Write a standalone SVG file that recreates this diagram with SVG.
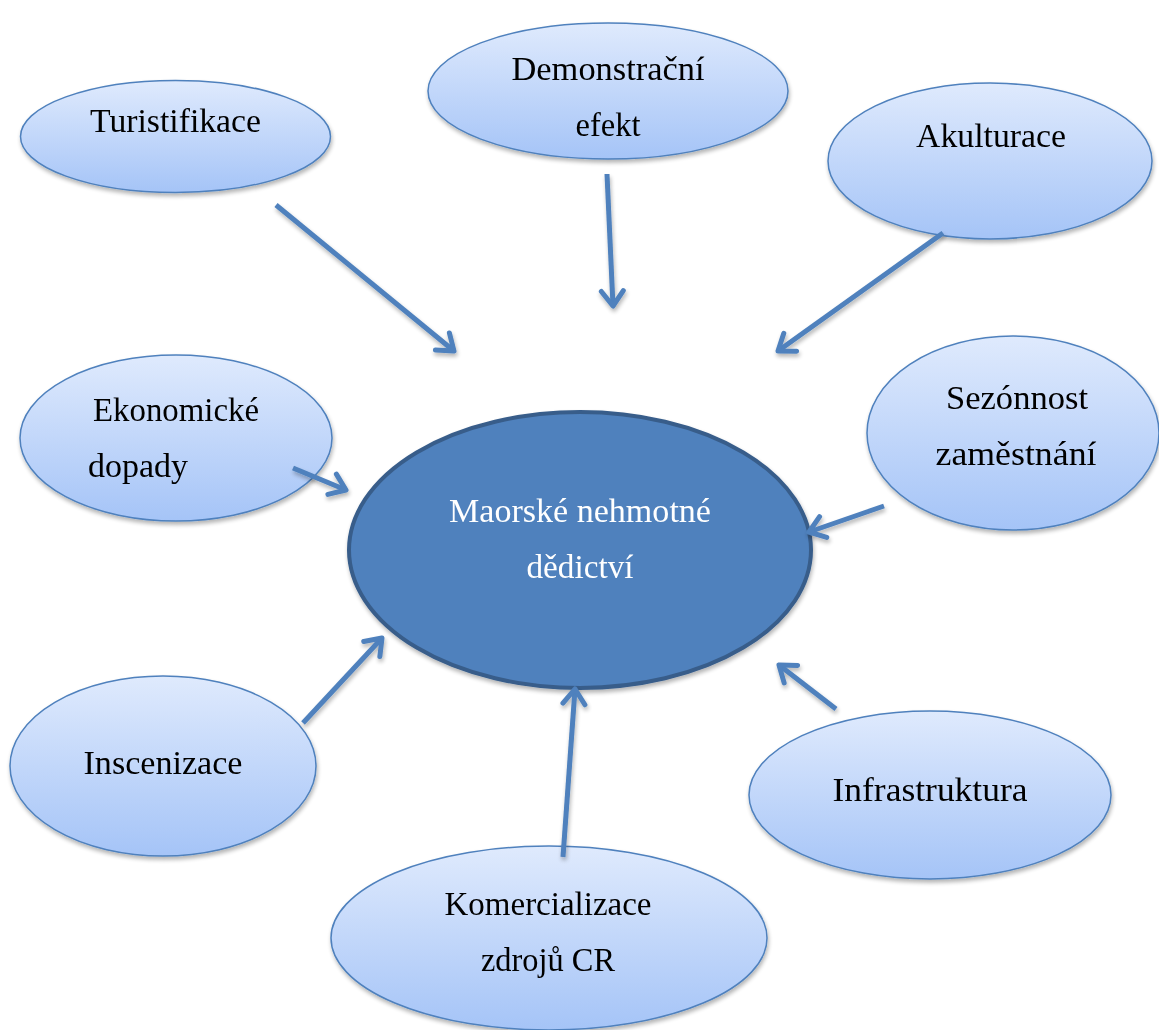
<svg xmlns="http://www.w3.org/2000/svg" width="1159" height="1030" viewBox="0 0 1159 1030">
<defs>
<linearGradient id="g" x1="0" y1="0" x2="0" y2="1">
<stop offset="0" stop-color="#dfeafd"/>
<stop offset="1" stop-color="#a5c4f7"/>
</linearGradient>
<filter id="sh" x="-10%" y="-10%" width="130%" height="130%">
<feGaussianBlur in="SourceAlpha" stdDeviation="2"/>
<feOffset dx="1" dy="3"/>
<feComponentTransfer><feFuncA type="linear" slope="0.3"/></feComponentTransfer>
<feMerge><feMergeNode/><feMergeNode in="SourceGraphic"/></feMerge>
</filter>
<marker id="ah" markerUnits="userSpaceOnUse" viewBox="-20 -14 24 28" markerWidth="24" markerHeight="28" refX="0" refY="0" orient="auto">
<path d="M-15,-11 L0,0 L-15,11" fill="none" stroke="#4f81bd" stroke-width="5" stroke-linecap="round" stroke-linejoin="round"/>
</marker>
</defs>
<style>
.leaf{fill:url(#g);stroke:#4f81bd;stroke-width:1.5}
.t{font-family:"Liberation Serif","DejaVu Serif",serif;font-size:33px;fill:#000;text-anchor:middle}
.w{fill:#fff}
.c{fill:none;stroke:#4f81bd;stroke-width:5;stroke-linecap:butt;marker-end:url(#ah)}
</style>
<rect width="1159" height="1030" fill="#fff"/>
<g id="turistifikace" filter="url(#sh)">
<ellipse class="leaf" cx="175.5" cy="136.5" rx="155" ry="56"/>
<text class="t" x="175.5" y="132" textLength="171" lengthAdjust="spacingAndGlyphs">Turistifikace</text>
</g>
<g id="demonstracni" filter="url(#sh)">
<ellipse class="leaf" cx="608" cy="91" rx="180" ry="68"/>
<text class="t" x="608" y="80" textLength="193" lengthAdjust="spacingAndGlyphs">Demonstrační</text>
<text class="t" x="608" y="136" textLength="65" lengthAdjust="spacingAndGlyphs">efekt</text>
</g>
<g id="akulturace" filter="url(#sh)">
<ellipse class="leaf" cx="990" cy="161" rx="162" ry="78"/>
<text class="t" x="991" y="147" textLength="150" lengthAdjust="spacingAndGlyphs">Akulturace</text>
</g>
<g id="ekonomicke" filter="url(#sh)">
<ellipse class="leaf" cx="176" cy="438" rx="156" ry="83"/>
<text class="t" x="176" y="421" textLength="166" lengthAdjust="spacingAndGlyphs">Ekonomické</text>
<text class="t" x="138" y="477" textLength="100" lengthAdjust="spacingAndGlyphs">dopady</text>
</g>
<g id="sezonnost" filter="url(#sh)">
<ellipse class="leaf" cx="1013" cy="433" rx="146" ry="97"/>
<text class="t" x="1017" y="409" textLength="142" lengthAdjust="spacingAndGlyphs">Sezónnost</text>
<text class="t" x="1016" y="465" textLength="161" lengthAdjust="spacingAndGlyphs">zaměstnání</text>
</g>
<g id="maorske" filter="url(#sh)">
<ellipse cx="580" cy="550" rx="231" ry="138" fill="#4f81bd" stroke="#385d8a" stroke-width="4"/>
<text class="t w" x="580" y="522" textLength="262" lengthAdjust="spacingAndGlyphs">Maorské nehmotné</text>
<text class="t w" x="580" y="578" textLength="107" lengthAdjust="spacingAndGlyphs">dědictví</text>
</g>
<g id="inscenizace" filter="url(#sh)">
<ellipse class="leaf" cx="163" cy="766" rx="153" ry="90"/>
<text class="t" x="163" y="774" textLength="159" lengthAdjust="spacingAndGlyphs">Inscenizace</text>
</g>
<g id="infrastruktura" filter="url(#sh)">
<ellipse class="leaf" cx="930" cy="795" rx="181" ry="84"/>
<text class="t" x="930" y="801" textLength="195" lengthAdjust="spacingAndGlyphs">Infrastruktura</text>
</g>
<g id="komercializace" filter="url(#sh)">
<ellipse class="leaf" cx="549" cy="938" rx="218" ry="92"/>
<text class="t" x="548" y="915" textLength="207" lengthAdjust="spacingAndGlyphs">Komercializace</text>
<text class="t" x="548" y="971" textLength="134" lengthAdjust="spacingAndGlyphs">zdrojů CR</text>
</g>
<g id="connectors" filter="url(#sh)">
<line class="c" x1="276" y1="205" x2="454" y2="351"/>
<line class="c" x1="607" y1="174" x2="613" y2="306"/>
<line class="c" x1="943" y1="233" x2="778" y2="351"/>
<line class="c" x1="293" y1="468" x2="346" y2="490"/>
<line class="c" x1="884" y1="506" x2="809" y2="532"/>
<line class="c" x1="303" y1="723" x2="382" y2="638"/>
<line class="c" x1="563" y1="857" x2="575" y2="689"/>
<line class="c" x1="836" y1="709" x2="779" y2="665"/>
</g>
</svg>
